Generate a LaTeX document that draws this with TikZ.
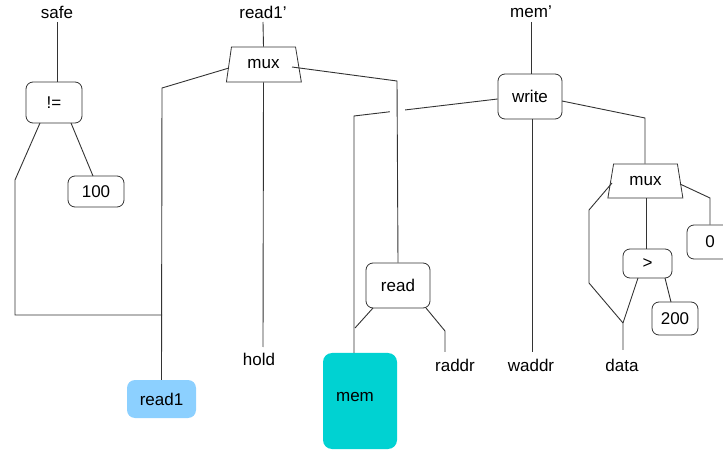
\documentclass[tikz,border=0pt]{standalone}
\usepackage{fontspec}
\setmainfont{Liberation Sans}
\usetikzlibrary{shapes.geometric}
\definecolor{inputblue}{RGB}{140,208,255}
\definecolor{memcyan}{RGB}{0,210,210}
\tikzset{
  wire/.style={draw=black!80, line width=0.9pt},
  opbox/.style={draw=black!80, line width=0.8pt, rounded corners=7pt, fill=white, inner sep=0pt},
  muxbox/.style={draw=black!80, line width=0.8pt, trapezium, trapezium stretches=true, inner sep=0pt, fill=white},
  label/.style={inner sep=0pt},
  every node/.style={font=\fontsize{17}{20}\selectfont}
}
\begin{document}
\begin{tikzpicture}[x=1pt,y=-1pt]
\useasboundingbox (0,0) rectangle (723,454);
\clip (0,0) rectangle (723,454);

% output labels
\node[label] (safe) at (57,12) {safe};
\node[label] (r1p)  at (263,12) {read1'};
\node[label] (memp) at (531,12) {mem'};

% operators
\node[opbox, minimum width=56pt, minimum height=41pt] (ne) at (54,102.5) {!=};
\node[opbox, minimum width=56pt, minimum height=31pt] (c100) at (96,191.5) {100};
\node[muxbox, trapezium left angle=74.8, trapezium right angle=72.6, minimum width=75pt, minimum height=35pt] (mux1) at (263.5,64.5) {mux};
\node[opbox, minimum width=64pt, minimum height=45pt] (write) at (530,96.5) {write};
\node[opbox, minimum width=64pt, minimum height=45pt] (read) at (398,285.5) {read};
\node[muxbox, trapezium left angle=72.9, trapezium right angle=73.6, minimum width=75pt, minimum height=34pt] (mux2) at (645.5,181) {mux};
\node[opbox, minimum width=49pt, minimum height=29pt] (gt) at (647.5,263.5) {>};
\node[opbox, minimum width=46pt, minimum height=33pt] (c200) at (675,318.5) {200};
\node[opbox, minimum width=46pt, minimum height=34pt] (c0) at (710,242) {0};

% inputs
\node[fill=inputblue, rounded corners=8pt, minimum width=69pt, minimum height=38pt, inner sep=0pt] (read1) at (161.5,399) {read1};
\node[fill=memcyan, rounded corners=9pt, minimum width=74pt, minimum height=96pt, inner sep=0pt] (mem) at (360,401) {};
\node[label] at (355,397) {mem};
\node[label] (hold)  at (259,359) {hold};
\node[label] (raddr) at (455,365) {raddr};
\node[label] (waddr) at (531,365) {waddr};
\node[label] (data)  at (622,365) {data};

% junction points
\coordinate (jr) at (162,315);
\coordinate (jm) at (355,328);
\coordinate (jd) at (623,323);

% outputs to their operators
\draw[wire] (safe.south |- 0,22) -- (ne.north -| safe.south);
\draw[wire] (r1p.south |- 0,22) -- (mux1.north);
\draw[wire] (memp.south |- 0,22) -- (memp.south |- write.north);

% != and 100
\draw[wire] (40,123) -- (15,180) -- (15,315) -- (jr);
\draw[wire] (71,123) -- (93,176);

% first mux
\draw[wire] (229,68) -- (162,88) -- (read1.north);
\draw[wire] (mux1.south) -- (263,347);
\draw[wire] (write.west |- 0,99) -- (354,116) -- (mem.north -| 354,0);
\draw[draw=white, line width=15pt] (397,100) -- (397,128);
\draw[wire] (292,67) -- (397,81) -- (read.north);

% read
\draw[wire] (373,308) -- (jm);
\draw[wire] (426,308) -- (445,331) -- (445,352);

% write
\draw[wire] (532,119) -- (532,352);
\draw[wire] (562,101) -- (645,118) -- (mux2.north -| 645,0);

% second mux
\draw[wire] (mux2.south -| 646,0) -- (gt.north -| 646,0);
\draw[wire] (612,183) -- (589,210) -- (589,283) -- (jd);
\draw[wire] (638,278) -- (jd) -- (623,350);
\draw[wire] (665,278) -- (671,302);
\draw[wire] (680,184) -- (710,198) -- (c0.north);
\end{tikzpicture}
\end{document}
